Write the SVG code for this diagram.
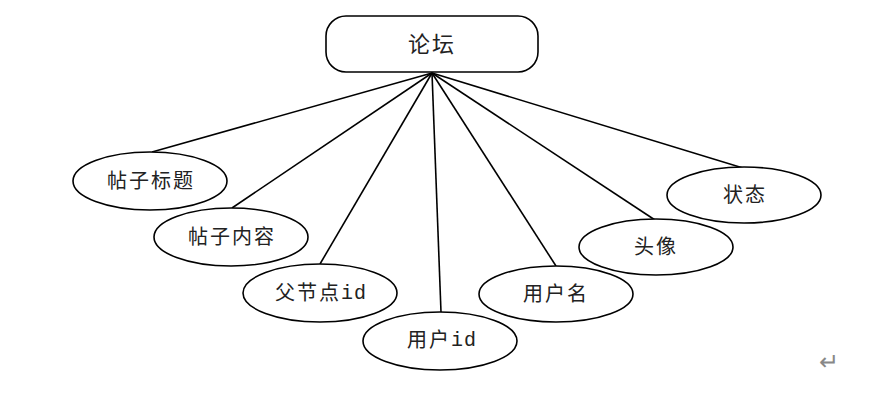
<svg xmlns="http://www.w3.org/2000/svg" width="896" height="399" viewBox="0 0 896 399">
<style>
.n{fill:#fff;stroke:#000;stroke-width:1.6}
.c line{stroke:#000;stroke-width:1.6}
text{font-family:"Liberation Serif","Noto Sans CJK SC",serif;font-size:20px;fill:#222;text-anchor:middle;dominant-baseline:central;letter-spacing:2px}
.m{font-family:"Liberation Mono","Noto Sans CJK SC",monospace;letter-spacing:1px}
</style>
<rect width="896" height="399" fill="#fff"/>
<g class="c" id="connectors">
<line x1="432" y1="73" x2="152" y2="152"/>
<line x1="432" y1="73" x2="232" y2="208"/>
<line x1="432" y1="73" x2="320" y2="264"/>
<line x1="432" y1="73" x2="441" y2="312"/>
<line x1="432" y1="73" x2="556" y2="266"/>
<line x1="432" y1="73" x2="655" y2="220"/>
<line x1="432" y1="73" x2="743" y2="168"/>
</g>
<g id="forum"><rect class="n" x="326" y="16" width="212" height="56" rx="20"/><text x="432" y="44" style="font-size:22px">论坛</text></g>
<g id="title"><ellipse class="n" cx="150" cy="181" rx="77" ry="29"/><text x="151" y="181">帖子标题</text></g>
<g id="content"><ellipse class="n" cx="231" cy="237" rx="77" ry="29"/><text x="232" y="237">帖子内容</text></g>
<g id="parent"><ellipse class="n" cx="320" cy="293" rx="77" ry="29"/><text x="321" y="293">父节点<tspan class="m">id</tspan></text></g>
<g id="userid"><ellipse class="n" cx="440" cy="341" rx="77" ry="29"/><text x="442" y="340">用户<tspan class="m">id</tspan></text></g>
<g id="username"><ellipse class="n" cx="556" cy="294" rx="77" ry="28"/><text x="556" y="294">用户名</text></g>
<g id="avatar"><ellipse class="n" cx="656" cy="247" rx="77" ry="28"/><text x="656" y="247">头像</text></g>
<g id="status"><ellipse class="n" cx="744" cy="195" rx="77" ry="28"/><text x="745" y="195">状态</text></g>
<text x="829" y="362" style="font-size:24px;fill:#888;letter-spacing:0">↵</text>
</svg>
